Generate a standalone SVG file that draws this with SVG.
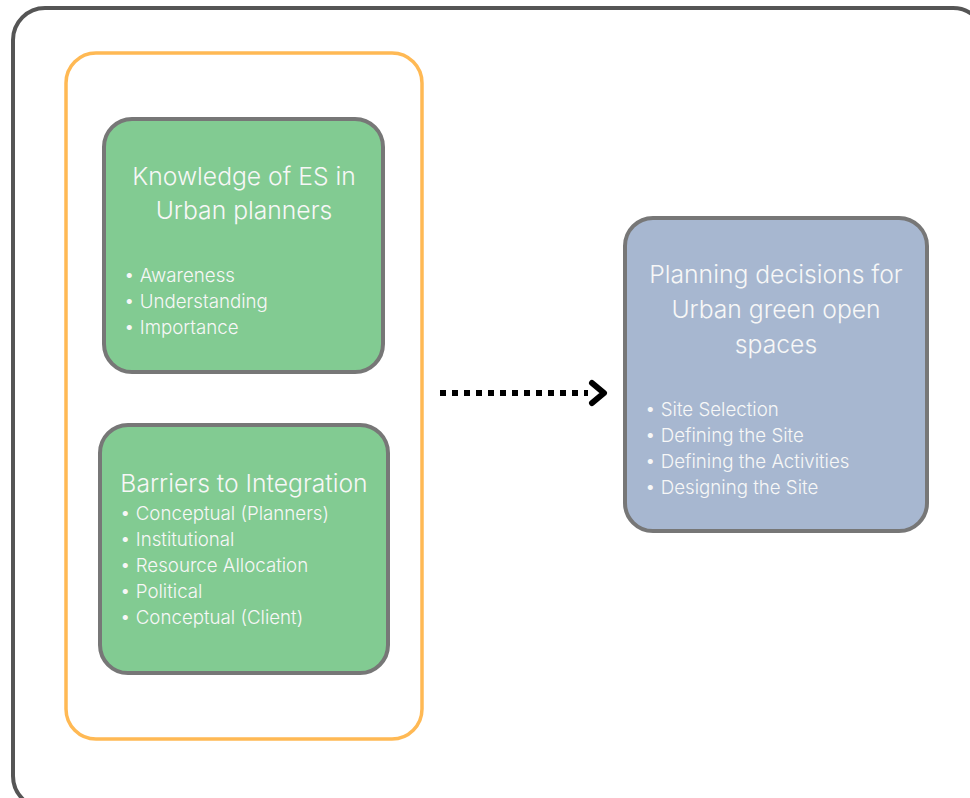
<svg xmlns="http://www.w3.org/2000/svg" width="970" height="798" viewBox="0 0 970 798">
<style>
.t{font-family:Inter,"Open Sans","Liberation Sans",sans-serif;font-weight:300;fill:#f7f7f7;font-size:24.7px;text-anchor:middle}
.b{font-family:Inter,"Open Sans","Liberation Sans",sans-serif;font-weight:300;fill:#f7f7f7;font-size:18.7px}
.box{stroke:#777;stroke-width:4}
</style>
<rect width="970" height="798" fill="#fff"/>
<rect x="13" y="8" width="972" height="800" rx="32" fill="#fff" stroke="#555" stroke-width="4"/>
<rect id="group" x="66" y="53" width="356" height="686" rx="30" fill="none" stroke="#FFB954" stroke-width="3.5"/>
<g id="knowledge">
<rect class="box" x="104" y="119" width="279" height="253" rx="28" fill="#82CB92"/>
<text class="t" x="244" y="185">Knowledge of ES in</text>
<text class="t" x="244" y="219">Urban planners</text>
<text class="b" x="124" y="282">• Awareness</text>
<text class="b" x="124" y="308">• Understanding</text>
<text class="b" x="124" y="334">• Importance</text>
</g>
<g id="barriers">
<rect class="box" x="100" y="425" width="288" height="248" rx="28" fill="#82CB92"/>
<text class="t" x="244" y="492">Barriers to Integration</text>
<text class="b" x="120" y="520">• Conceptual (Planners)</text>
<text class="b" x="120" y="546">• Institutional</text>
<text class="b" x="120" y="572">• Resource Allocation</text>
<text class="b" x="120" y="598">• Political</text>
<text class="b" x="120" y="624">• Conceptual (Client)</text>
</g>
<g id="planning">
<rect class="box" x="625" y="218" width="302" height="313" rx="28" fill="#A7B7D0"/>
<text class="t" x="776" y="283">Planning decisions for</text>
<text class="t" x="776" y="318">Urban green open</text>
<text class="t" x="776" y="353">spaces</text>
<text class="b" x="645" y="416">• Site Selection</text>
<text class="b" x="645" y="442">• Defining the Site</text>
<text class="b" x="645" y="468">• Defining the Activities</text>
<text class="b" x="645" y="494">• Designing the Site</text>
</g>
<g id="connectors">
<line x1="440" y1="393" x2="588" y2="393" stroke="#000" stroke-width="6" stroke-dasharray="6 6"/>
<polyline points="592,383 604,393 592,403" fill="none" stroke="#000" stroke-width="6" stroke-linecap="round" stroke-linejoin="round"/>
</g>
</svg>
